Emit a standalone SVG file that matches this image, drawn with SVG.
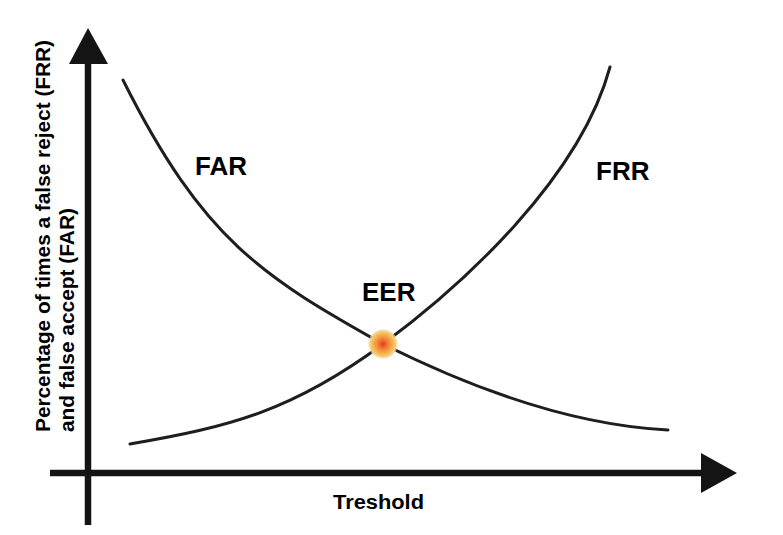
<svg xmlns="http://www.w3.org/2000/svg" width="783" height="535" viewBox="0 0 783 535">
<defs>
<radialGradient id="dotGrad" cx="0.5" cy="0.5" r="0.5">
<stop offset="0" stop-color="#e2381f"/>
<stop offset="0.3" stop-color="#ef7a35"/>
<stop offset="0.65" stop-color="#f6b24c"/>
<stop offset="0.85" stop-color="#f3cf80"/>
<stop offset="1" stop-color="#efe0b8" stop-opacity="0.4"/>
</radialGradient>
</defs>
<style>
.axis{stroke:#141414;stroke-width:6.5;fill:none}
.head{fill:#141414}
.curve{stroke:#1e1e1e;stroke-width:3;fill:none;stroke-linecap:round}
.lbl{font-family:"Liberation Sans",Arial,sans-serif;font-weight:bold;fill:#000}
</style>
<rect x="0" y="0" width="783" height="535" fill="#ffffff"/>
<g id="axes">
<line class="axis" x1="88" y1="525" x2="88" y2="58"/>
<polygon class="head" points="88,28 69,64 108,64"/>
<line class="axis" x1="50" y1="473" x2="708" y2="473"/>
<polygon class="head" points="737,473 701,453 701,493"/>
</g>
<g id="connectors">
<path id="far-curve" class="curve" d="M123,80 C203,240 263,276.8 383,344 C463,384 568,425 668,430"/>
<path id="frr-curve" class="curve" d="M130,444 C230,427 293,410.6 383,344 C463,284.8 580,178 610,67"/>
</g>
<g id="eer-point">
<circle cx="383" cy="344" r="15" fill="url(#dotGrad)"/>
</g>
<g id="label-far">
<text class="lbl" x="195" y="175" font-size="26">FAR</text>
</g>
<g id="label-frr">
<text class="lbl" x="596" y="180" font-size="26">FRR</text>
</g>
<g id="label-eer">
<text class="lbl" x="362" y="301" font-size="26">EER</text>
</g>
<g id="label-x">
<text class="lbl" x="333" y="509" font-size="20" textLength="91" lengthAdjust="spacingAndGlyphs">Treshold</text>
</g>
<g id="label-y">
<text class="lbl" transform="rotate(-90)" x="-432" y="50" font-size="21" textLength="392" lengthAdjust="spacingAndGlyphs">Percentage of times a false reject (FRR)</text>
<text class="lbl" transform="rotate(-90)" x="-432" y="74" font-size="21" textLength="224" lengthAdjust="spacingAndGlyphs">and false accept (FAR)</text>
</g>
</svg>
